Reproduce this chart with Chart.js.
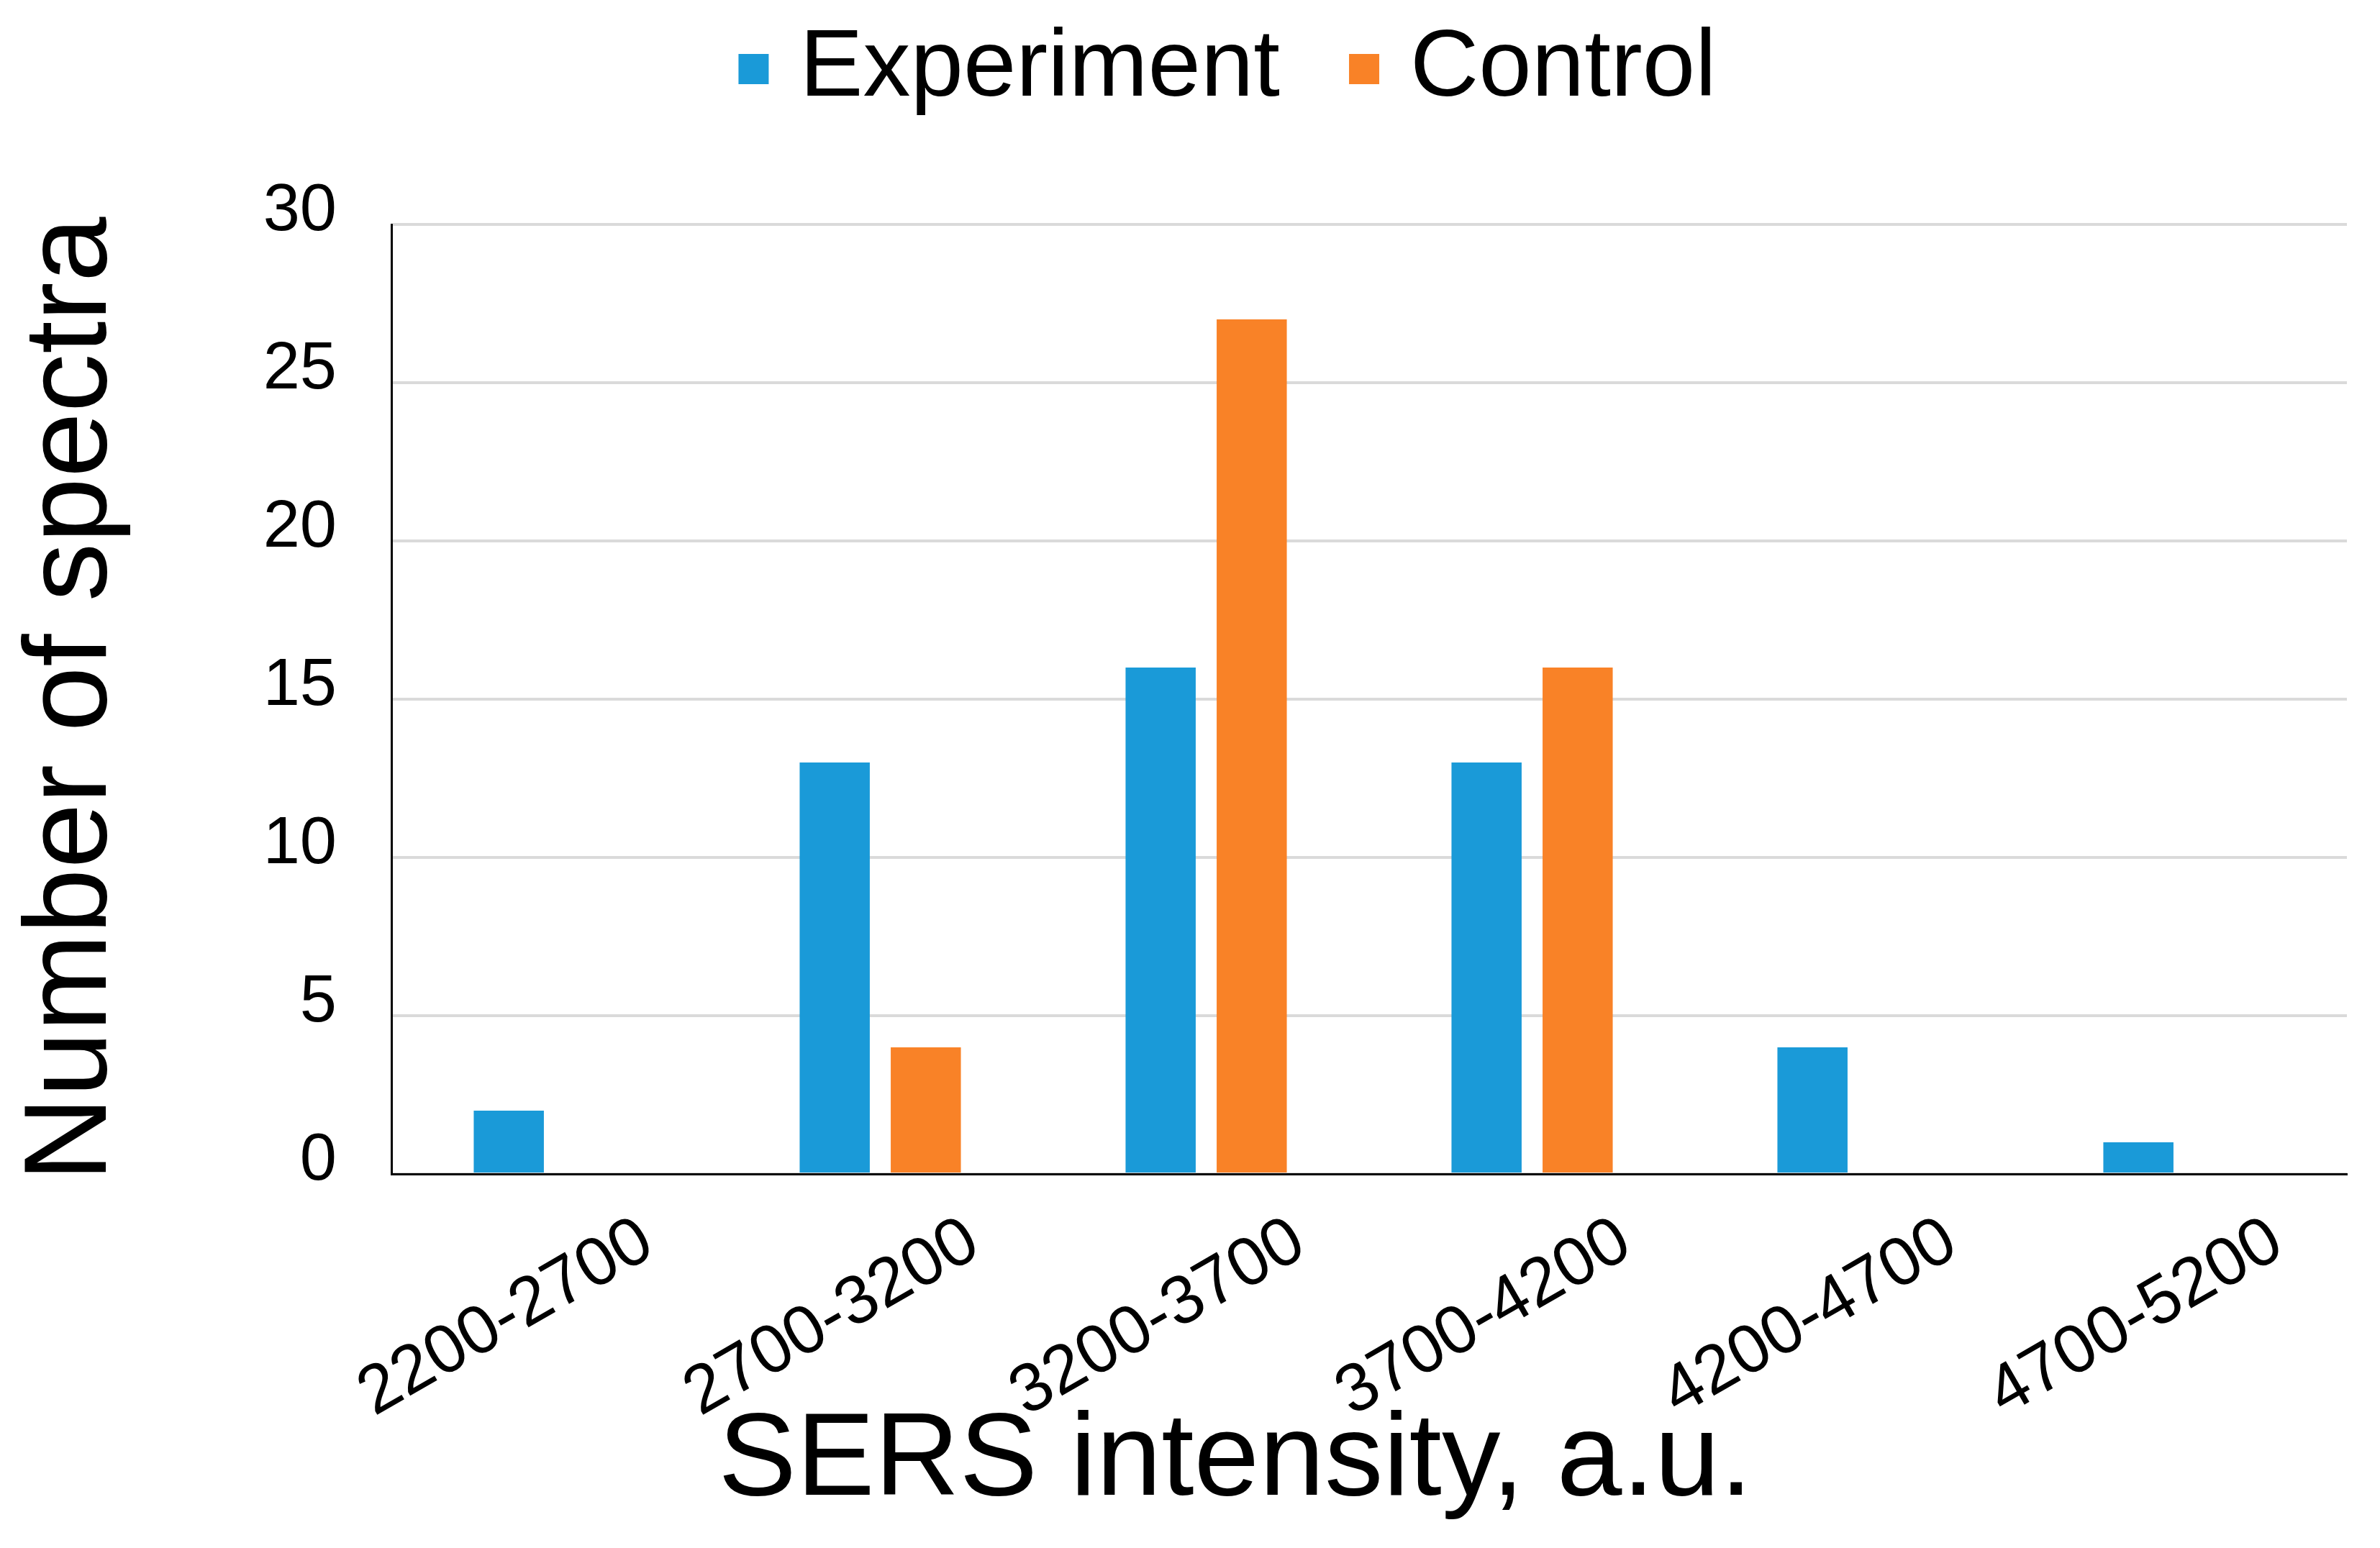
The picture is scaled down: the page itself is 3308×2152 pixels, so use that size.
<!DOCTYPE html>
<html>
<head>
<meta charset="utf-8">
<script src="https://cdn.jsdelivr.net/npm/chart.js@4.4.1/dist/chart.umd.min.js"></script>
<style>
  html, body { margin: 0; padding: 0; background: #fff; }
  #wrap { width: 3308px; height: 2152px; }
</style>
</head>
<body>
<div id="wrap"><canvas id="histChart" width="3308" height="2152"></canvas></div>
<script>
const intensityBins = ['2200-2700', '2700-3200', '3200-3700', '3700-4200', '4200-4700', '4700-5200'];
const experimentCounts = [2, 13, 16, 13, 4, 1];
const controlCounts = [0, 4, 27, 16, 0, 0];
const yTicks = [0, 5, 10, 15, 20, 25, 30];

const xTitle = 'SERS intensity, a.u.';
const yTitle = 'Number of spectra';
const FONT = "'Liberation Sans', Arial, sans-serif";

/* legend and x title drawn by hand, both sit a little right of the canvas centre */
const overlayPlugin = {
  id: 'overlay',
  afterDraw(chart) {
    const ctx = chart.ctx;
    const cx = chart.width / 2 + 52;
    ctx.save();
    ctx.fillStyle = '#000';

    // legend
    ctx.font = '132px ' + FONT;
    const box = 42, gap = 43, itemGap = 96;
    const sets = chart.data.datasets;
    let total = 0;
    sets.forEach((ds, i) => {
      total += box + gap + ctx.measureText(ds.label).width + (i ? itemGap : 0);
    });
    let x = cx - total / 2;
    sets.forEach((ds) => {
      ctx.fillStyle = ds.backgroundColor;
      ctx.fillRect(x, 75, box, box);
      x += box + gap;
      ctx.fillStyle = '#000';
      ctx.textAlign = 'left';
      ctx.textBaseline = 'alphabetic';
      ctx.fillText(ds.label, x, 133);
      x += ctx.measureText(ds.label).width + itemGap;
    });

    // x axis title
    ctx.font = '163px ' + FONT;
    ctx.textAlign = 'center';
    ctx.textBaseline = 'alphabetic';
    ctx.fillText(xTitle, chart.width / 2 + 63, chart.scales.x.bottom - 74);
    ctx.restore();
  }
};

const ctx = document.getElementById('histChart').getContext('2d');
new Chart(ctx, {
  type: 'bar',
  data: {
    labels: intensityBins,
    datasets: [
      {
        label: 'Experiment',
        data: experimentCounts,
        backgroundColor: '#1A9AD8',
        borderWidth: 0,
        categoryPercentage: 0.559,
        barPercentage: 0.77
      },
      {
        label: 'Control',
        data: controlCounts,
        backgroundColor: '#F98227',
        borderWidth: 0,
        categoryPercentage: 0.559,
        barPercentage: 0.77
      }
    ]
  },
  plugins: [overlayPlugin],
  options: {
    responsive: false,
    animation: false,
    devicePixelRatio: 1,
    layout: { padding: { left: 0, right: 46, top: 312, bottom: 0 } },
    plugins: {
      tooltip: { enabled: false },
      legend: { display: false }
    },
    scales: {
      x: {
        grid: { display: false, drawTicks: false },
        border: { display: true, color: '#000', width: 3 },
        ticks: {
          color: '#000',
          font: { family: FONT, size: 95 },
          minRotation: 30,
          maxRotation: 30,
          padding: 38,
          labelOffset: 130
        },
        afterFit(scale) { scale.height = 520; }
      },
      y: {
        min: yTicks[0],
        max: yTicks[yTicks.length - 1],
        grid: { color: '#DADADA', lineWidth: 4, drawTicks: false },
        border: { display: true, color: '#000', width: 3 },
        ticks: {
          stepSize: yTicks[1] - yTicks[0],
          color: '#000',
          font: { family: FONT, size: 92 },
          padding: 76,
          labelOffset: -17
        },
        title: {
          display: true,
          text: yTitle,
          color: '#000',
          font: { family: FONT, size: 163, lineHeight: 1 },
          padding: { top: 21, bottom: 0 }
        },
        afterFit(scale) { scale.width = 544; }
      }
    }
  }
});
</script>
</body>
</html>
